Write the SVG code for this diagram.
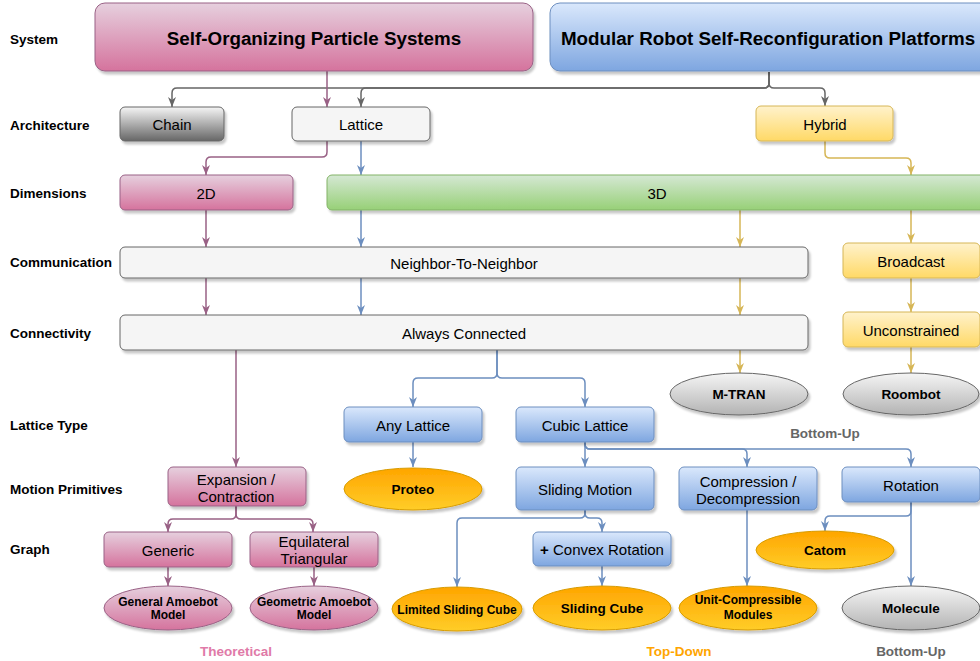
<svg xmlns="http://www.w3.org/2000/svg" width="980" height="661" viewBox="0 0 980 661">
<style>
text{font-family:"Liberation Sans",Arial,Helvetica,sans-serif;dominant-baseline:central;text-anchor:middle;fill:#000}
.row{font-size:13.5px;font-weight:bold;text-anchor:start}
.sys{font-size:18.8px;font-weight:bold}
.bx{font-size:15px}
.el{font-size:13.5px;font-weight:bold}
.els{font-size:12px;font-weight:bold}
.cat{font-size:13.5px;font-weight:bold}
.shape{filter:url(#sh)}
.pink{fill:url(#gPink);stroke:#996185;stroke-width:1}
.blue{fill:url(#gBlue);stroke:#6c8ebf;stroke-width:1}
.green{fill:url(#gGreen);stroke:#82b366;stroke-width:1}
.yellow{fill:url(#gYellow);stroke:#d6b656;stroke-width:1}
.orange{fill:url(#gOrange);stroke:#d79b00;stroke-width:1}
.gray{fill:url(#gGray);stroke:#666666;stroke-width:1}
.dark{fill:url(#gDark);stroke:#666666;stroke-width:1}
.plain{fill:#f5f5f5;stroke:#666666;stroke-width:1}
#connectors path{fill:none;stroke-width:1.5}
.cg{stroke:#666666;marker-end:url(#aG)}
.cp{stroke:#996185;marker-end:url(#aP)}
.cb{stroke:#6c8ebf;marker-end:url(#aB)}
.cy{stroke:#d6b656;marker-end:url(#aY)}
</style>
<defs>
<filter id="sh" x="-10%" y="-20%" width="130%" height="150%">
<feDropShadow dx="2" dy="3" stdDeviation="1" flood-color="#000" flood-opacity="0.22"/>
</filter>
<linearGradient id="gPink" x1="0" y1="0" x2="0" y2="1"><stop offset="0" stop-color="#e6d0de"/><stop offset="1" stop-color="#d5739d"/></linearGradient>
<linearGradient id="gBlue" x1="0" y1="0" x2="0" y2="1"><stop offset="0" stop-color="#dae8fc"/><stop offset="1" stop-color="#7ea6e0"/></linearGradient>
<linearGradient id="gGreen" x1="0" y1="0" x2="0" y2="1"><stop offset="0" stop-color="#d5e8d4"/><stop offset="1" stop-color="#97d077"/></linearGradient>
<linearGradient id="gYellow" x1="0" y1="0" x2="0" y2="1"><stop offset="0" stop-color="#fff2cc"/><stop offset="1" stop-color="#ffd966"/></linearGradient>
<linearGradient id="gOrange" x1="0" y1="0" x2="0" y2="1"><stop offset="0" stop-color="#ffa500"/><stop offset="1" stop-color="#ffcd28"/></linearGradient>
<linearGradient id="gGray" x1="0" y1="0" x2="0" y2="1"><stop offset="0" stop-color="#f5f5f5"/><stop offset="1" stop-color="#b3b3b3"/></linearGradient>
<linearGradient id="gDark" x1="0" y1="0" x2="0" y2="1"><stop offset="0" stop-color="#f5f5f5"/><stop offset="1" stop-color="#666666"/></linearGradient>
<marker id="aG" markerUnits="userSpaceOnUse" markerWidth="10" markerHeight="10" viewBox="0 0 10 10" refX="10" refY="5" orient="auto"><path d="M0,1 L10,5 L0,9 L3,5 Z" fill="#666666"/></marker>
<marker id="aP" markerUnits="userSpaceOnUse" markerWidth="10" markerHeight="10" viewBox="0 0 10 10" refX="10" refY="5" orient="auto"><path d="M0,1 L10,5 L0,9 L3,5 Z" fill="#996185"/></marker>
<marker id="aB" markerUnits="userSpaceOnUse" markerWidth="10" markerHeight="10" viewBox="0 0 10 10" refX="10" refY="5" orient="auto"><path d="M0,1 L10,5 L0,9 L3,5 Z" fill="#6c8ebf"/></marker>
<marker id="aY" markerUnits="userSpaceOnUse" markerWidth="10" markerHeight="10" viewBox="0 0 10 10" refX="10" refY="5" orient="auto"><path d="M0,1 L10,5 L0,9 L3,5 Z" fill="#d6b656"/></marker>
</defs>
<rect width="980" height="661" fill="#ffffff"/>

<g id="row-labels">
<text class="row" x="10" y="39">System</text>
<text class="row" x="10" y="125">Architecture</text>
<text class="row" x="10" y="193">Dimensions</text>
<text class="row" x="10" y="262">Communication</text>
<text class="row" x="10" y="333">Connectivity</text>
<text class="row" x="10" y="425">Lattice Type</text>
<text class="row" x="10" y="489">Motion Primitives</text>
<text class="row" x="10" y="549">Graph</text>
</g>

<g id="connectors">
<path class="cg" d="M769,72 V83 Q769,88 764,88 H177 Q172,88 172,93 V107"/>
<path class="cg" d="M769,72 V83 Q769,88 764,88 H366 Q361,88 361,93 V107"/>
<path class="cg" d="M769,72 V83 Q769,88 774,88 H820 Q825,88 825,93 V106"/>
<path class="cp" d="M327,71 V107"/>
<path class="cp" d="M327,141 V152 Q327,157 322,157 H211 Q206,157 206,162 V175"/>
<path class="cp" d="M206,210 V247"/>
<path class="cp" d="M206,278 V315"/>
<path class="cp" d="M236,350 V467"/>
<path class="cp" d="M236,506 V514 Q236,519 231,519 H173 Q168,519 168,524 V532"/>
<path class="cp" d="M236,506 V514 Q236,519 241,519 H308 Q313,519 313,524 V532"/>
<path class="cp" d="M168,567 V586"/>
<path class="cp" d="M314,567 V586"/>
<path class="cb" d="M361,141 V175"/>
<path class="cb" d="M361,210 V247"/>
<path class="cb" d="M361,278 V315"/>
<path class="cb" d="M497,350 V373 Q497,378 492,378 H418 Q413,378 413,383 V407"/>
<path class="cb" d="M497,350 V373 Q497,378 502,378 H580 Q585,378 585,383 V407"/>
<path class="cb" d="M413,442 V467"/>
<path class="cb" d="M585,442 V467"/>
<path class="cb" d="M585,442 V444 Q585,449 590,449 H742 Q747,449 747,454 V467"/>
<path class="cb" d="M585,442 V444 Q585,449 590,449 H906 Q911,449 911,454 V467"/>
<path class="cb" d="M585,510 V513 Q585,518 580,518 H462 Q457,518 457,523 V587"/>
<path class="cb" d="M585,510 V513 Q585,518 590,518 H597 Q602,518 602,523 V532"/>
<path class="cb" d="M602,566 V586"/>
<path class="cb" d="M747,510 V586"/>
<path class="cb" d="M911,502 V511 Q911,516 906,516 H830 Q825,516 825,521 V531"/>
<path class="cb" d="M911,502 V586"/>
<path class="cy" d="M825,141 V153 Q825,158 830,158 H906 Q911,158 911,163 V175"/>
<path class="cy" d="M740,210 V247"/>
<path class="cy" d="M911,210 V243"/>
<path class="cy" d="M740,278 V315"/>
<path class="cy" d="M911,278 V312"/>
<path class="cy" d="M740,350 V373"/>
<path class="cy" d="M911,347 V373"/>
</g>

<g id="sops"><rect class="shape pink" x="95" y="3" width="438" height="68" rx="10"/><text class="sys" x="314" y="38">Self-Organizing Particle Systems</text></g>
<g id="mrsr"><rect class="shape blue" x="550" y="3" width="440" height="68" rx="10"/><text class="sys" x="768" y="38">Modular Robot Self-Reconfiguration Platforms</text></g>

<g id="chain"><rect class="shape dark" x="120" y="107" width="104" height="34" rx="5"/><text class="bx" x="172" y="124">Chain</text></g>
<g id="lattice"><rect class="shape plain" x="292" y="107" width="138" height="34" rx="5"/><text class="bx" x="361" y="124">Lattice</text></g>
<g id="hybrid"><rect class="shape yellow" x="756" y="106" width="137" height="35" rx="5"/><text class="bx" x="825" y="124">Hybrid</text></g>

<g id="d2"><rect class="shape pink" x="120" y="175" width="173" height="35" rx="5"/><text class="bx" x="206" y="193">2D</text></g>
<g id="d3"><rect class="shape green" x="327" y="175" width="660" height="35" rx="5"/><text class="bx" x="657" y="193">3D</text></g>

<g id="ntn"><rect class="shape plain" x="120" y="247" width="688" height="31" rx="5"/><text class="bx" x="464" y="263">Neighbor-To-Neighbor</text></g>
<g id="broadcast"><rect class="shape yellow" x="843" y="243" width="137" height="35" rx="5"/><text class="bx" x="911" y="261">Broadcast</text></g>

<g id="ac"><rect class="shape plain" x="120" y="315" width="688" height="35" rx="5"/><text class="bx" x="464" y="333">Always Connected</text></g>
<g id="unconstrained"><rect class="shape yellow" x="843" y="312" width="137" height="35" rx="5"/><text class="bx" x="911" y="330">Unconstrained</text></g>

<g id="mtran"><ellipse class="shape gray" cx="739" cy="394" rx="69" ry="21"/><text class="el" x="739" y="394">M-TRAN</text></g>
<g id="roombot"><ellipse class="shape gray" cx="911" cy="394" rx="68" ry="21"/><text class="el" x="911" y="394">Roombot</text></g>

<g id="any-lattice"><rect class="shape blue" x="344" y="407" width="138" height="35" rx="5"/><text class="bx" x="413" y="425">Any Lattice</text></g>
<g id="cubic-lattice"><rect class="shape blue" x="516" y="407" width="138" height="35" rx="5"/><text class="bx" x="585" y="425">Cubic Lattice</text></g>

<g id="proteo"><ellipse class="shape orange" cx="413" cy="489" rx="69" ry="21"/><text class="el" x="413" y="489">Proteo</text></g>

<g id="expansion"><rect class="shape pink" x="168" y="467" width="138" height="39" rx="5"/><text class="bx" x="236" y="479">Expansion /</text><text class="bx" x="236" y="496">Contraction</text></g>
<g id="sliding-motion"><rect class="shape blue" x="516" y="467" width="138" height="43" rx="5"/><text class="bx" x="585" y="489">Sliding Motion</text></g>
<g id="compression"><rect class="shape blue" x="679" y="467" width="138" height="43" rx="5"/><text class="bx" x="748" y="481">Compression /</text><text class="bx" x="748" y="498">Decompression</text></g>
<g id="rotation"><rect class="shape blue" x="842" y="467" width="138" height="35" rx="5"/><text class="bx" x="911" y="485">Rotation</text></g>

<g id="generic"><rect class="shape pink" x="104" y="532" width="128" height="35" rx="5"/><text class="bx" x="168" y="550">Generic</text></g>
<g id="equilateral"><rect class="shape pink" x="250" y="532" width="128" height="35" rx="5"/><text class="bx" x="314" y="541">Equilateral</text><text class="bx" x="314" y="558">Triangular</text></g>
<g id="convex"><rect class="shape blue" x="533" y="532" width="138" height="34" rx="5"/><text class="bx" x="602" y="549"><tspan font-weight="bold">+</tspan> Convex Rotation</text></g>
<g id="catom"><ellipse class="shape orange" cx="825" cy="550" rx="69" ry="19"/><text class="el" x="825" y="550">Catom</text></g>

<g id="gam"><ellipse class="shape pink" cx="168" cy="608" rx="64" ry="22"/><text class="els" x="168" y="602">General Amoebot</text><text class="els" x="168" y="615">Model</text></g>
<g id="geo"><ellipse class="shape pink" cx="314" cy="608" rx="64" ry="22"/><text class="els" x="314" y="602">Geometric Amoebot</text><text class="els" x="314" y="615">Model</text></g>
<g id="lsc"><ellipse class="shape orange" cx="457" cy="609" rx="65" ry="22"/><text class="els" x="457" y="610">Limited Sliding Cube</text></g>
<g id="sliding-cube"><ellipse class="shape orange" cx="602" cy="608" rx="69" ry="22"/><text class="el" x="602" y="608">Sliding Cube</text></g>
<g id="ucm"><ellipse class="shape orange" cx="748" cy="608" rx="69" ry="22"/><text class="els" x="748" y="600" font-size="12.5px">Unit-Compressible</text><text class="els" x="748" y="615" font-size="12.5px">Modules</text></g>
<g id="molecule"><ellipse class="shape gray" cx="911" cy="608" rx="69" ry="22"/><text class="el" x="911" y="608">Molecule</text></g>

<g id="categories">
<text class="cat" x="236" y="651" style="fill:#e07aa8">Theoretical</text>
<text class="cat" x="679" y="651" style="fill:#ffa500">Top-Down</text>
<text class="cat" x="911" y="651" style="fill:#666666">Bottom-Up</text>
<text class="cat" x="825" y="433" style="fill:#666666">Bottom-Up</text>
</g>
</svg>
